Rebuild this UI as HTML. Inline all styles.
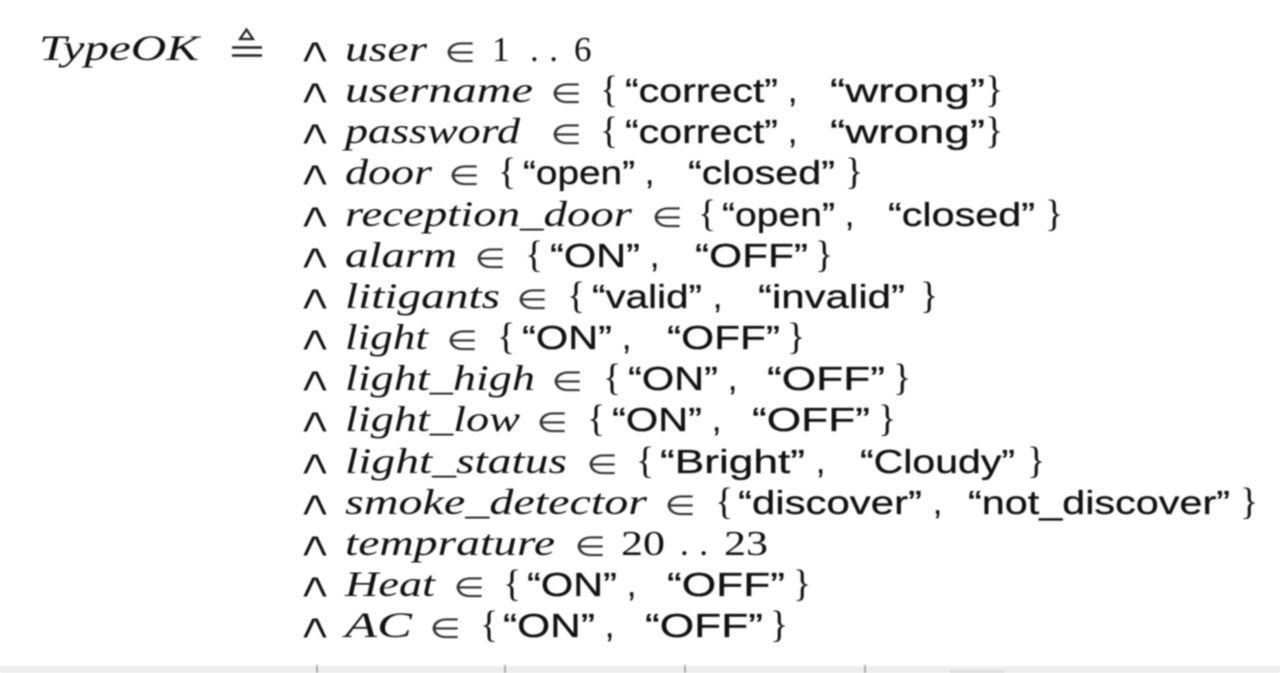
<!DOCTYPE html>
<html><head><meta charset="utf-8"><style>
html,body{margin:0;padding:0;background:#fff;width:1280px;height:673px;overflow:hidden}
svg{display:block;filter:blur(.7px)}
text{fill:#111;white-space:pre}
.v{font:italic 36px "Liberation Serif",serif}
.s{font:33px "Liberation Sans",sans-serif;stroke:#111;stroke-width:.3px}
.n{font:35px "Liberation Serif",serif}
.b{font:38px "Liberation Serif",serif}
.m{font:24px "DejaVu Sans",sans-serif;fill:#333;transform-box:fill-box;transform-origin:center;transform:scale(1.3,1.15)}
.a{font:30px "DejaVu Sans",sans-serif;stroke:#fff;stroke-width:.9px;transform-box:fill-box;transform-origin:center;transform:translateY(-.5px) scale(1.5,1.15)}
</style></head><body>
<svg width="1280" height="673" viewBox="0 0 1280 673" xmlns="http://www.w3.org/2000/svg">
<text class="v" x="39" y="60" textLength="160" lengthAdjust="spacingAndGlyphs">TypeOK</text>
<path d="M240 39 L246.500 29.500 L253 39 Z" fill="none" stroke="#222" stroke-width="2.200"/>
<path d="M232 47.500 H262 M232 55.500 H262" stroke="#222" stroke-width="2.500"/>

<g transform="translate(0,1)">
<text class="a" x="302" y="60" textLength="26" lengthAdjust="spacingAndGlyphs">∧</text>
<text class="a" x="302" y="101" textLength="26" lengthAdjust="spacingAndGlyphs">∧</text>
<text class="a" x="302" y="142" textLength="26" lengthAdjust="spacingAndGlyphs">∧</text>
<text class="a" x="302" y="183" textLength="26" lengthAdjust="spacingAndGlyphs">∧</text>
<text class="a" x="302" y="225" textLength="26" lengthAdjust="spacingAndGlyphs">∧</text>
<text class="a" x="302" y="266" textLength="26" lengthAdjust="spacingAndGlyphs">∧</text>
<text class="a" x="302" y="307" textLength="26" lengthAdjust="spacingAndGlyphs">∧</text>
<text class="a" x="302" y="348" textLength="26" lengthAdjust="spacingAndGlyphs">∧</text>
<text class="a" x="302" y="389" textLength="26" lengthAdjust="spacingAndGlyphs">∧</text>
<text class="a" x="302" y="430" textLength="26" lengthAdjust="spacingAndGlyphs">∧</text>
<text class="a" x="302" y="472" textLength="26" lengthAdjust="spacingAndGlyphs">∧</text>
<text class="a" x="302" y="513" textLength="26" lengthAdjust="spacingAndGlyphs">∧</text>
<text class="a" x="302" y="554" textLength="26" lengthAdjust="spacingAndGlyphs">∧</text>
<text class="a" x="302" y="595" textLength="26" lengthAdjust="spacingAndGlyphs">∧</text>
<text class="a" x="302" y="636" textLength="26" lengthAdjust="spacingAndGlyphs">∧</text>

<!-- 1 -->
<text class="v" x="345" y="60" textLength="82" lengthAdjust="spacingAndGlyphs">user</text>
<text class="m" x="448" y="60" textLength="24" lengthAdjust="spacingAndGlyphs">∈</text>
<text class="n" x="492" y="60">1</text>
<text class="n" x="530" y="60" textLength="28" lengthAdjust="spacing">. .</text>
<text class="n" x="574" y="60">6</text>

<!-- 2 -->
<text class="v" x="345" y="101" textLength="188" lengthAdjust="spacingAndGlyphs">username</text>
<text class="m" x="554" y="101" textLength="24" lengthAdjust="spacingAndGlyphs">∈</text>
<text class="b" x="600" y="101">{</text>
<text class="s" x="625" y="101" textLength="153" lengthAdjust="spacingAndGlyphs">“correct”</text>
<text class="s" x="788" y="101">,</text>
<text class="s" x="830" y="101" textLength="155" lengthAdjust="spacingAndGlyphs">“wrong”</text>
<text class="b" x="985" y="101">}</text>

<!-- 3 -->
<text class="v" x="345" y="142" textLength="175" lengthAdjust="spacingAndGlyphs">password</text>
<text class="m" x="554" y="142" textLength="24" lengthAdjust="spacingAndGlyphs">∈</text>
<text class="b" x="600" y="142">{</text>
<text class="s" x="625" y="142" textLength="153" lengthAdjust="spacingAndGlyphs">“correct”</text>
<text class="s" x="788" y="142">,</text>
<text class="s" x="830" y="142" textLength="155" lengthAdjust="spacingAndGlyphs">“wrong”</text>
<text class="b" x="985" y="142">}</text>

<!-- 4 -->
<text class="v" x="345" y="183" textLength="87" lengthAdjust="spacingAndGlyphs">door</text>
<text class="m" x="452" y="183" textLength="24" lengthAdjust="spacingAndGlyphs">∈</text>
<text class="b" x="498" y="183">{</text>
<text class="s" x="523" y="183" textLength="112" lengthAdjust="spacingAndGlyphs">“open”</text>
<text class="s" x="645" y="183">,</text>
<text class="s" x="688" y="183" textLength="147" lengthAdjust="spacingAndGlyphs">“closed”</text>
<text class="b" x="845" y="183">}</text>

<!-- 5 -->
<text class="v" x="345" y="225" textLength="287" lengthAdjust="spacingAndGlyphs">reception_door</text>
<text class="m" x="655" y="225" textLength="24" lengthAdjust="spacingAndGlyphs">∈</text>
<text class="b" x="698" y="225">{</text>
<text class="s" x="722" y="225" textLength="113" lengthAdjust="spacingAndGlyphs">“open”</text>
<text class="s" x="845" y="225">,</text>
<text class="s" x="888" y="225" textLength="147" lengthAdjust="spacingAndGlyphs">“closed”</text>
<text class="b" x="1045" y="225">}</text>

<!-- 6 -->
<text class="v" x="345" y="266" textLength="112" lengthAdjust="spacingAndGlyphs">alarm</text>
<text class="m" x="478" y="266" textLength="24" lengthAdjust="spacingAndGlyphs">∈</text>
<text class="b" x="525" y="266">{</text>
<text class="s" x="550" y="266" textLength="90" lengthAdjust="spacingAndGlyphs">“ON”</text>
<text class="s" x="650" y="266">,</text>
<text class="s" x="695" y="266" textLength="113" lengthAdjust="spacingAndGlyphs">“OFF”</text>
<text class="b" x="815" y="266">}</text>

<!-- 7 -->
<text class="v" x="345" y="307" textLength="155" lengthAdjust="spacingAndGlyphs">litigants</text>
<text class="m" x="520" y="307" textLength="24" lengthAdjust="spacingAndGlyphs">∈</text>
<text class="b" x="567" y="307">{</text>
<text class="s" x="592" y="307" textLength="110" lengthAdjust="spacingAndGlyphs">“valid”</text>
<text class="s" x="713" y="307">,</text>
<text class="s" x="758" y="307" textLength="147" lengthAdjust="spacingAndGlyphs">“invalid”</text>
<text class="b" x="920" y="307">}</text>

<!-- 8 -->
<text class="v" x="345" y="348" textLength="83" lengthAdjust="spacingAndGlyphs">light</text>
<text class="m" x="450" y="348" textLength="24" lengthAdjust="spacingAndGlyphs">∈</text>
<text class="b" x="497" y="348">{</text>
<text class="s" x="522" y="348" textLength="90" lengthAdjust="spacingAndGlyphs">“ON”</text>
<text class="s" x="622" y="348">,</text>
<text class="s" x="667" y="348" textLength="113" lengthAdjust="spacingAndGlyphs">“OFF”</text>
<text class="b" x="787" y="348">}</text>

<!-- 9 -->
<text class="v" x="345" y="389" textLength="190" lengthAdjust="spacingAndGlyphs">light_high</text>
<text class="m" x="555" y="389" textLength="24" lengthAdjust="spacingAndGlyphs">∈</text>
<text class="b" x="603" y="389">{</text>
<text class="s" x="628" y="389" textLength="90" lengthAdjust="spacingAndGlyphs">“ON”</text>
<text class="s" x="728" y="389">,</text>
<text class="s" x="767" y="389" textLength="118" lengthAdjust="spacingAndGlyphs">“OFF”</text>
<text class="b" x="893" y="389">}</text>

<!-- 10 -->
<text class="v" x="345" y="430" textLength="175" lengthAdjust="spacingAndGlyphs">light_low</text>
<text class="m" x="540" y="430" textLength="24" lengthAdjust="spacingAndGlyphs">∈</text>
<text class="b" x="587" y="430">{</text>
<text class="s" x="612" y="430" textLength="90" lengthAdjust="spacingAndGlyphs">“ON”</text>
<text class="s" x="712" y="430">,</text>
<text class="s" x="752" y="430" textLength="118" lengthAdjust="spacingAndGlyphs">“OFF”</text>
<text class="b" x="878" y="430">}</text>

<!-- 11 -->
<text class="v" x="345" y="472" textLength="222" lengthAdjust="spacingAndGlyphs">light_status</text>
<text class="m" x="590" y="472" textLength="24" lengthAdjust="spacingAndGlyphs">∈</text>
<text class="b" x="636" y="472">{</text>
<text class="s" x="660" y="472" textLength="145" lengthAdjust="spacingAndGlyphs">“Bright”</text>
<text class="s" x="816" y="472">,</text>
<text class="s" x="860" y="472" textLength="155" lengthAdjust="spacingAndGlyphs">“Cloudy”</text>
<text class="b" x="1027" y="472">}</text>

<!-- 12 -->
<text class="v" x="345" y="513" textLength="302" lengthAdjust="spacingAndGlyphs">smoke_detector</text>
<text class="m" x="668" y="513" textLength="24" lengthAdjust="spacingAndGlyphs">∈</text>
<text class="b" x="715" y="513">{</text>
<text class="s" x="738" y="513" textLength="184" lengthAdjust="spacingAndGlyphs">“discover”</text>
<text class="s" x="933" y="513">,</text>
<text class="s" x="968" y="513" textLength="262" lengthAdjust="spacingAndGlyphs">“not_discover”</text>
<text class="b" x="1240" y="513">}</text>

<!-- 13 -->
<text class="v" x="345" y="554" textLength="210" lengthAdjust="spacingAndGlyphs">temprature</text>
<text class="m" x="578" y="554" textLength="24" lengthAdjust="spacingAndGlyphs">∈</text>
<text class="n" x="621" y="554" textLength="44" lengthAdjust="spacingAndGlyphs">20</text>
<text class="n" x="680" y="554" textLength="28" lengthAdjust="spacing">. .</text>
<text class="n" x="724" y="554" textLength="44" lengthAdjust="spacingAndGlyphs">23</text>

<!-- 14 -->
<text class="v" x="345" y="595" textLength="90" lengthAdjust="spacingAndGlyphs">Heat</text>
<text class="m" x="457" y="595" textLength="24" lengthAdjust="spacingAndGlyphs">∈</text>
<text class="b" x="503" y="595">{</text>
<text class="s" x="527" y="595" textLength="90" lengthAdjust="spacingAndGlyphs">“ON”</text>
<text class="s" x="627" y="595">,</text>
<text class="s" x="667" y="595" textLength="118" lengthAdjust="spacingAndGlyphs">“OFF”</text>
<text class="b" x="793" y="595">}</text>

<!-- 15 -->
<text class="v" x="345" y="636" textLength="67" lengthAdjust="spacingAndGlyphs">AC</text>
<text class="m" x="433" y="636" textLength="24" lengthAdjust="spacingAndGlyphs">∈</text>
<text class="b" x="480" y="636">{</text>
<text class="s" x="503" y="636" textLength="92" lengthAdjust="spacingAndGlyphs">“ON”</text>
<text class="s" x="605" y="636">,</text>
<text class="s" x="645" y="636" textLength="118" lengthAdjust="spacingAndGlyphs">“OFF”</text>
<text class="b" x="770" y="636">}</text>
</g>

<!-- bottom bar -->
<rect x="0" y="666" width="1280" height="7" fill="#eeeeee"/>
<rect x="950" y="670" width="55" height="3" fill="#dddddd"/>
<path d="M317 665V673M505 665V673M685 665V673M865 665V673" stroke="#999" stroke-width="1.500"/>
</svg>
</body></html>
